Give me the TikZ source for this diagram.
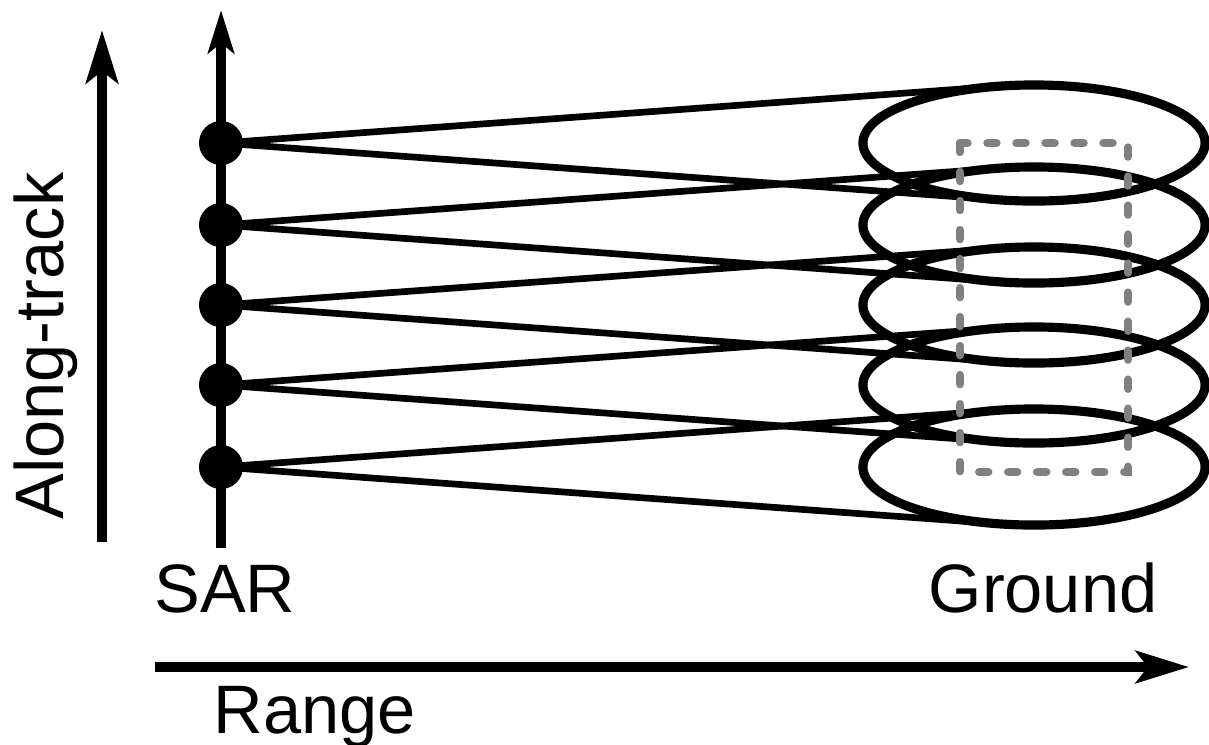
\documentclass[tikz,border=0pt]{standalone}
\usepackage{fontspec}
\setmainfont{Liberation Sans}
\usetikzlibrary{arrows.meta}
\tikzset{
  lbl/.style={font=\fontsize{19.5pt}{22pt}\selectfont, inner sep=0pt},
  bigaxis/.style={line width=2.8pt, -{Stealth[length=0.53cm, width=0.32cm, inset=0.12cm]}},
  track/.style={line width=2.8pt, -{Stealth[length=0.43cm, width=0.26cm, inset=0.1cm]}},
  dot/.style={circle, fill=black, inner sep=0pt, minimum size=0.44cm},
  ray/.style={line width=1.9pt},
  spot/.style={line width=2.6pt},
  window/.style={draw=gray, line width=2.4pt, line cap=round, dash pattern=on 0.09cm off 0.2cm}
}
\begin{document}
\begin{tikzpicture}[x=0.01cm, y=-0.01cm]
\useasboundingbox (0,0) rectangle (1209,744);
\coordinate (at0) at (102,542);
\coordinate (at1) at (102,30);
\coordinate (sar0) at (221,548);
\coordinate (sar1) at (221,10);
\coordinate (rg0) at (155,667);
\coordinate (rg1) at (1189,667);
\draw[bigaxis] (at0) -- (at1);
\draw[track] (sar0) -- (sar1);
\draw[bigaxis] (rg0) -- (rg1);
\foreach \i/\y in {1/143,2/225,3/305,4/385,5/467}{
  \coordinate (e\i) at (1034,\y);
  \coordinate (t\i) at (998,\y-56.7);
  \coordinate (b\i) at (998,\y+56.7);
  \draw[spot] (e\i) ellipse [x radius=1.71cm, y radius=0.58cm];
}
\foreach \i/\y in {1/143,2/225,3/305,4/385,5/467}{
  \draw[ray] (221,\y) -- (t\i);
  \draw[ray] (221,\y) -- (b\i);
  \node[dot] (d\i) at (221,\y) {};
}
\draw[window] (960,143) rectangle (1128,472);
\node[lbl, anchor=base, rotate=90] (along) at (63,346) {Along-track};
\node[lbl, anchor=base] (sar) at (225,612) {SAR};
\node[lbl, anchor=base] (ground) at (1043,612) {Ground};
\node[lbl, anchor=base] (range) at (315,733) {Range};
\end{tikzpicture}
\end{document}
